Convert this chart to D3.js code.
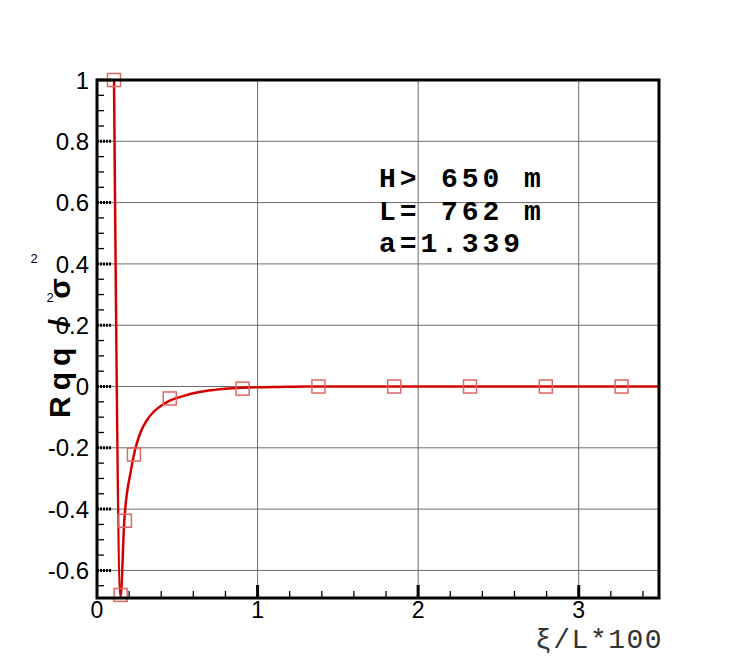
<!DOCTYPE html>
<html>
<head>
<meta charset="utf-8">
<script src="https://cdn.jsdelivr.net/npm/d3@7"></script>
<style>
  body { margin: 0; background: #fff; }
</style>
</head>
<body>
<div id="viz"></div>
<script>
// curve (xi/L*100, Rqq/sigma^2)
var curveX = [0.106, 0.147, 0.170, 0.211, 0.236, 0.267, 0.309, 0.350, 0.402, 0.453, 0.526, 0.629, 0.733, 0.795, 0.950, 1.10, 1.30, 1.85, 2.80, 3.5];
var curveY = [1.0, -0.685, -0.438, -0.275, -0.209, -0.155, -0.111, -0.084, -0.062, -0.046, -0.033, -0.019, -0.011, -0.0075, -0.003, -0.002, 0.0, 0.0, 0.0, 0.0];

// square symbols
var markX = [0.106, 0.147, 0.174, 0.230, 0.453, 0.907, 1.379, 1.851, 2.323, 2.795, 3.267];
var markY = [1.0, -0.68, -0.438, -0.222, -0.039, -0.007, 0.0, 0.0, 0.0, 0.0, 0.0];

var xTicks = [0, 1, 2, 3];
var yTicks = [-0.6, -0.4, -0.2, 0, 0.2, 0.4, 0.6, 0.8, 1];
var infoLines = ["H> 650 m", "L= 762 m", "a=1.339"];

var pLeft = 97, pRight = 659, pTop = 80, pBottom = 598;

var svg = d3.select("#viz")
  .append("svg")
  .attr("width", 750)
  .attr("height", 667);

svg.append("rect").attr("width", 750).attr("height", 667).attr("fill", "#fff");

var x = d3.scaleLinear().domain([0, 3.5]).range([pLeft, pRight]);
var y = d3.scaleLinear().domain([-0.69, 1]).range([pBottom, pTop]);

// grid
svg.append("g").selectAll("line")
  .data(yTicks)
  .enter().append("line")
  .attr("x1", pLeft).attr("x2", pRight)
  .attr("y1", function(d){ return y(d); })
  .attr("y2", function(d){ return y(d); })
  .attr("stroke", "#6b6b6b")
  .attr("stroke-width", 1);

svg.append("g").selectAll("line")
  .data(xTicks.slice(1))
  .enter().append("line")
  .attr("y1", pTop).attr("y2", pBottom)
  .attr("x1", function(d){ return x(d); })
  .attr("x2", function(d){ return x(d); })
  .attr("stroke", "#6b6b6b")
  .attr("stroke-width", 1);

// ticks (inside)
var yMinor = d3.range(-0.65, 1.0001, 0.05).filter(function(v){ return Math.abs(Math.round(v*5) - v*5) > 1e-6; });
var xMinor = d3.range(0.2, 3.5, 0.2).filter(function(v){ return Math.abs(Math.round(v) - v) > 1e-6; });

svg.append("g").selectAll("line")
  .data(yMinor)
  .enter().append("line")
  .attr("x1", pLeft).attr("x2", pLeft + 7)
  .attr("y1", function(d){ return y(d); })
  .attr("y2", function(d){ return y(d); })
  .attr("stroke", "#000").attr("stroke-width", 1.3);

svg.append("g").selectAll("line")
  .data(yTicks)
  .enter().append("line")
  .attr("x1", pLeft).attr("x2", pLeft + 14)
  .attr("y1", function(d){ return y(d); })
  .attr("y2", function(d){ return y(d); })
  .attr("stroke", "#000").attr("stroke-width", 3)
  .attr("stroke-dasharray", "2,1");

svg.append("g").selectAll("line")
  .data(xMinor)
  .enter().append("line")
  .attr("y1", pBottom).attr("y2", pBottom - 7)
  .attr("x1", function(d){ return x(d); })
  .attr("x2", function(d){ return x(d); })
  .attr("stroke", "#000").attr("stroke-width", 1.3);

svg.append("g").selectAll("line")
  .data(xTicks.slice(1))
  .enter().append("line")
  .attr("y1", pBottom).attr("y2", pBottom - 13)
  .attr("x1", function(d){ return x(d); })
  .attr("x2", function(d){ return x(d); })
  .attr("stroke", "#000").attr("stroke-width", 3);

// curve
var line = d3.line()
  .x(function(d, i){ return x(curveX[i]); })
  .y(function(d, i){ return y(curveY[i]); })
  .curve(d3.curveMonotoneX);

svg.append("path")
  .attr("d", line(curveX))
  .attr("fill", "none")
  .attr("stroke", "#d40000")
  .attr("stroke-width", 2.5);

svg.append("g").selectAll("rect")
  .data(markX)
  .enter().append("rect")
  .attr("x", function(d){ return x(d) - 6.5; })
  .attr("y", function(d, i){ return y(markY[i]) - 6.5; })
  .attr("width", 13).attr("height", 13)
  .attr("fill", "none")
  .attr("stroke", "#e06666")
  .attr("stroke-width", 1.5);

// frame
svg.append("rect")
  .attr("x", pLeft).attr("y", pTop)
  .attr("width", pRight - pLeft).attr("height", pBottom - pTop)
  .attr("fill", "none")
  .attr("stroke", "#000")
  .attr("stroke-width", 3);

// tick labels
svg.append("g").selectAll("text")
  .data(yTicks)
  .enter().append("text")
  .attr("x", pLeft - 8)
  .attr("y", function(d){ return y(d); })
  .attr("dy", "0.36em")
  .attr("text-anchor", "end")
  .style("font-family", "Liberation Sans, Arial, sans-serif")
  .style("font-size", "24px")
  .text(function(d){ return String(d); });

svg.append("g").selectAll("text")
  .data(xTicks)
  .enter().append("text")
  .attr("x", function(d){ return x(d); })
  .attr("y", 618)
  .attr("text-anchor", "middle")
  .style("font-family", "Liberation Sans, Arial, sans-serif")
  .style("font-size", "23px")
  .text(function(d){ return d; });

// axis titles
svg.append("text")
  .attr("x", 535)
  .attr("y", 648)
  .style("font-family", "Liberation Mono, Courier New, monospace")
  .style("font-size", "28px")
  .style("letter-spacing", "1.5px")
  .attr("fill", "#333")
  .text("ξ/L*100");

svg.append("text")
  .attr("transform", "translate(70,418) rotate(-90)")
  .attr("xml:space", "preserve")
  .style("white-space", "pre")
  .style("font-family", "Liberation Sans, Arial, sans-serif")
  .style("font-size", "30px")
  .style("font-weight", "bold")
  .style("letter-spacing", "6px")
  .text("Rqq / σ");

svg.append("text")
  .attr("x", 34).attr("y", 263)
  .attr("text-anchor", "middle")
  .style("font-family", "Liberation Sans, Arial, sans-serif")
  .style("font-size", "13px")
  .text("2");

svg.append("text")
  .attr("x", 50).attr("y", 302)
  .attr("text-anchor", "middle")
  .style("font-family", "Liberation Sans, Arial, sans-serif")
  .style("font-size", "13px")
  .text("2");

// annotation
svg.append("g").selectAll("text")
  .data(infoLines)
  .enter().append("text")
  .attr("x", 379)
  .attr("y", function(d, i){ return 187 + i * 32.5; })
  .attr("xml:space", "preserve")
  .style("white-space", "pre")
  .style("font-family", "Liberation Mono, Courier New, monospace")
  .style("font-size", "28px")
  .style("font-weight", "bold")
  .style("letter-spacing", "3.9px")
  .text(function(d){ return d; });
</script>
</body>
</html>
